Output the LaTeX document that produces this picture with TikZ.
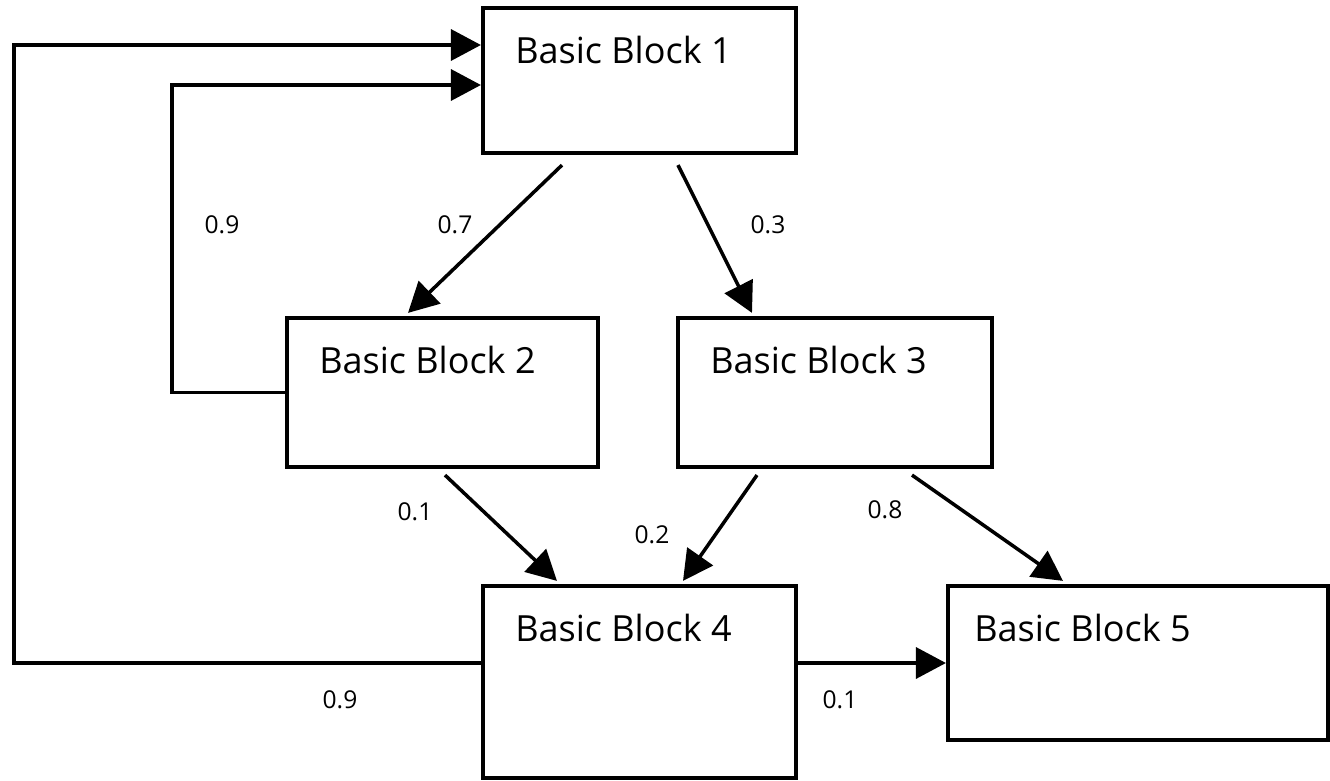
\documentclass[tikz,border=0pt]{standalone}
\usepackage{fontspec}
\setmainfont{Open Sans}
\usetikzlibrary{arrows.meta,positioning,calc}

\begin{document}
\begin{tikzpicture}[
        x=0.02cm, y=-0.02cm,
        block/.style={rectangle, draw=black, line width=2.4pt, inner sep=0pt},
        blocktext/.style={anchor=base west, inner sep=0pt, xshift=0.68cm, yshift=-1.16cm, font=\fontsize{20.5}{24}\selectfont},
        flow/.style={-{Triangle[length=0.6cm, width=0.62cm]}, line width=2pt},
        prob/.style={font=\fontsize{14}{16}\selectfont}
    ]
        \useasboundingbox (0,0) rectangle (1330,781);

        % Blocks
        \node[block, minimum width=6.26cm, minimum height=2.9cm, label={[blocktext]north west:Basic Block 1}] (bb1) at (639.5,80.5) {};
        \node[block, minimum width=6.22cm, minimum height=2.98cm, label={[blocktext]north west:Basic Block 2}] (bb2) at (442.5,392.5) {};
        \node[block, minimum width=6.28cm, minimum height=2.98cm, label={[blocktext]north west:Basic Block 3}] (bb3) at (835,392.5) {};
        \node[block, minimum width=6.26cm, minimum height=3.84cm, label={[blocktext]north west:Basic Block 4}] (bb4) at (639.5,682) {};
        \node[block, minimum width=7.6cm, minimum height=3.08cm, label={[blocktext, xshift=-0.12cm]north west:Basic Block 5}] (bb5) at (1138,663) {};

        % Loop corners
        \coordinate (outer) at (14,45);
        \coordinate (inner) at (172,85);

        % Edges
        \draw[flow] ([shift={(-77.5,10)}]bb1.south) -- ([shift={(-34.5,-3)}]bb2.north);
        \draw[flow] ([shift={(38.5,10)}]bb1.south) -- ([shift={(-83,-3)}]bb3.north);
        \draw[flow] ([shift={(2.5,6)}]bb2.south) -- ([shift={(-82.5,-3)}]bb4.north);
        \draw[flow] ([shift={(-78,6)}]bb3.south) -- ([shift={(43.5,-3)}]bb4.north);
        \draw[flow] ([shift={(77,6)}]bb3.south) -- ([shift={(-75,-3)}]bb5.north);
        \draw[flow] (bb4.east |- bb5.west) -- (bb5.west);
        \draw[flow] (bb4.west |- bb5.west) -| (outer) -- (outer -| bb1.west);
        \draw[flow] (bb2.west) -| (inner) -- (inner -| bb1.west);

        % Probabilities
        \node[prob] (p12) at (455,225) {0.7};
        \node[prob] (p13) at (768,225) {0.3};
        \node[prob] (p21) at (222,225) {0.9};
        \node[prob] (p24) at (415,512) {0.1};
        \node[prob] (p34) at (652,535) {0.2};
        \node[prob] (p35) at (885,510) {0.8};
        \node[prob] (p41) at (340,700) {0.9};
        \node[prob] (p45) at (840,700) {0.1};

    \end{tikzpicture}
\end{document}
